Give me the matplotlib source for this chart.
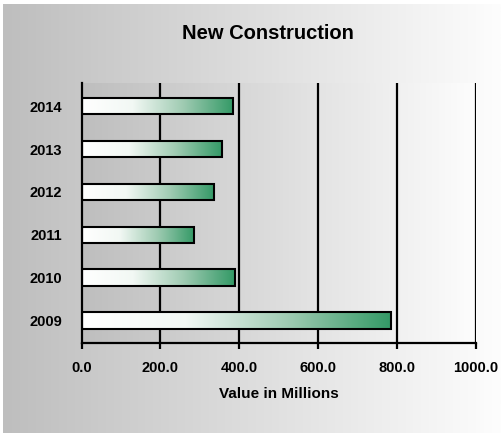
import numpy as np
import matplotlib.pyplot as plt
from matplotlib.colors import LinearSegmentedColormap

plt.rcParams['font.family'] = ['Liberation Sans', 'DejaVu Sans']

# ── data ─────────────────────────────────────────────
years  = ['2009', '2010', '2011', '2012', '2013', '2014']
values = [786, 388, 286, 337, 357, 384]   # value in millions
xticks = [0, 200, 400, 600, 800, 1000]

# ── colours ──────────────────────────────────────────
bar_cmap = LinearSegmentedColormap.from_list('bar', ['#ffffff', '#f2f8f4', '#9fcbb2', '#339966'])
bg_cmap  = LinearSegmentedColormap.from_list('bg', ['#bebebe', '#fdfdfd'])

fig = plt.figure(figsize=(5.01, 4.33), dpi=100)
fig.patch.set_facecolor('white')

# outer panel with a grey -> white sweep
bg = fig.add_axes([0.006, 0, 0.994, 0.991], zorder=-10)
bg.imshow(np.linspace(0, 1, 256)[None, :], cmap=bg_cmap, aspect='auto',
          extent=[0, 1, 0, 1])
bg.set_axis_off()

ax = fig.add_axes([0.163, 0.2085, 0.7865, 0.5998])
ax.set_xlim(0, 1000)
ax.set_ylim(-0.52, len(years) - 1 + 0.54)

# plot area has its own gradient
ax.imshow(np.linspace(0, 1, 256)[None, :], cmap=bg_cmap, aspect='auto',
          extent=[0, 1000, -0.52, len(years) - 1 + 0.54], zorder=0)

grad = np.linspace(0, 1, 256)[None, :]
h = 0.38
for i, v in enumerate(values):
    ax.imshow(grad, cmap=bar_cmap, aspect='auto',
              extent=[0, v, i - h / 2, i + h / 2], zorder=3)
ax.barh(range(len(years)), values, height=h, facecolor='none',
        edgecolor='black', linewidth=1.5, zorder=4)

for x in xticks[1:]:
    ax.axvline(x, color='black', linewidth=1.6, zorder=2)

ax.set_xticks(xticks)
ax.set_xticklabels([f'{x:.1f}' for x in xticks], fontsize=10.5, fontweight='bold')
ax.set_yticks(range(len(years)))
ax.set_yticklabels(years, fontsize=10.5, fontweight='bold')
ax.tick_params(axis='y', length=0, pad=14)
ax.tick_params(axis='x', length=4, width=1.6, pad=9)
ax.set_xlabel('Value in Millions', fontsize=11, fontweight='bold', labelpad=9)

for s in ['top', 'right']:
    ax.spines[s].set_visible(False)
for s in ['left', 'bottom']:
    ax.spines[s].set_linewidth(1.6)
    ax.spines[s].set_zorder(5)

fig.text(0.535, 0.923, 'New Construction', ha='center', va='center',
         fontsize=14.5, fontweight='bold')

plt.savefig('out.png', dpi=100)
